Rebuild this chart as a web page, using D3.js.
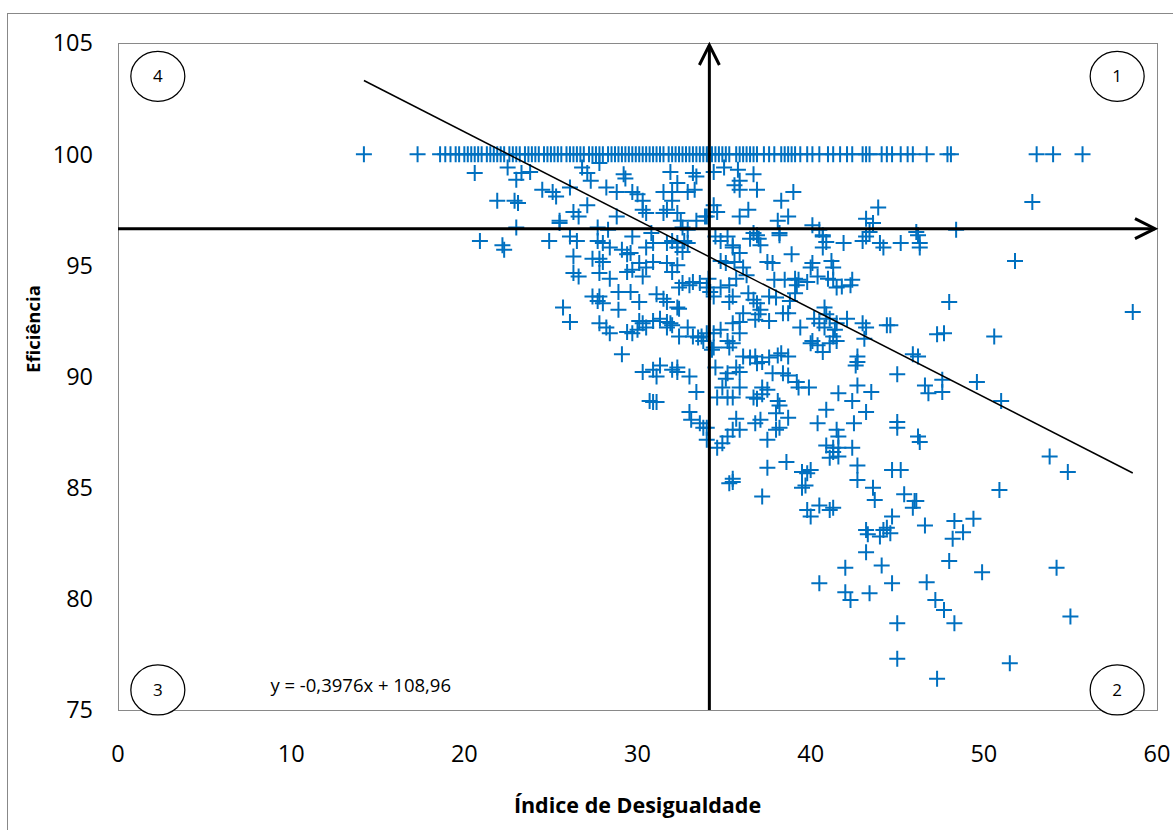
<!DOCTYPE html>
<html lang="pt">
<head>
<meta charset="UTF-8">
<title>Eficiência x Índice de Desigualdade</title>
<script src="https://d3js.org/d3.v7.min.js"></script>
<style>
    body { margin: 0; background: #fff; }
    text { font-family: "Open Sans", "Liberation Sans", sans-serif; fill: #000; }
</style>
</head>
<body>
<div id="chart"></div>
<script>
    // pontos com eficiência = 100 (só o índice)
    const topoX = [14.2, 17.3, 18.6, 18.9, 19.2, 19.5, 19.7, 20.0, 20.2, 20.4, 20.6, 20.8, 21.0, 21.3, 21.5,
        21.7, 21.9, 22.1, 22.3, 22.6, 22.8, 23.0, 23.2, 23.5, 23.7, 23.9, 24.1, 24.3, 24.6, 24.8,
        25.0, 25.2, 25.4, 25.6, 25.9, 26.1, 26.3, 26.5, 26.7, 26.9, 27.2, 27.4, 27.6, 27.8, 28.0,
        28.3, 28.5, 28.7, 28.9, 29.1, 29.3, 29.5, 29.7, 29.9, 30.1, 30.3, 30.5, 30.7, 30.9, 31.1,
        31.3, 31.5, 31.8, 32.0, 32.2, 32.4, 32.6, 32.8, 33.0, 33.2, 33.4, 33.6, 33.8, 34.0, 34.1,
        34.3, 34.5, 34.7, 34.9, 35.1, 35.3, 35.7, 35.9, 36.1, 36.3, 36.5, 36.7, 36.9, 37.3, 37.6,
        37.9, 38.3, 38.5, 38.7, 38.9, 39.1, 39.4, 39.8, 40.1, 40.5, 41.0, 41.3, 41.7, 42.1, 42.4,
        43.0, 43.2, 43.4, 44.1, 44.4, 44.7, 45.2, 45.6, 45.9, 46.7, 47.9, 48.1, 53.05, 54.0, 55.7];

    // demais pontos [índice, eficiência]
    const quadSuperiorEsq = [[20.6, 99.15], [22.5, 99.4], [23.3, 99.15], [23.0, 98.85], [23.8, 99.2],
        [24.5, 98.4], [25.1, 98.3], [25.3, 98.1], [26.1, 98.5], [21.9, 97.9], [22.9, 97.9], [23.1, 97.8],
        [25.5, 97.0], [26.3, 97.4], [26.6, 97.2], [27.1, 97.7], [27.1, 99.15], [27.3, 98.8], [26.8, 99.4],
        [27.8, 99.6], [28.2, 98.5], [28.8, 98.3], [29.2, 99.1], [29.3, 98.9], [29.7, 98.3], [30.0, 98.2],
        [30.3, 97.9], [28.8, 97.2], [30.3, 97.5], [30.5, 97.35], [31.9, 99.2], [31.5, 98.3], [32.0, 98.3],
        [32.9, 98.3], [33.3, 98.4], [32.3, 98.7], [33.2, 99.15], [33.4, 99.0], [32.0, 97.9], [31.7, 97.5],
        [32.3, 97.35], [32.5, 97.0], [32.6, 96.7], [32.9, 96.6], [31.5, 97.35], [33.9, 97.2], [33.4, 97.0],
        [32.7, 96.1], [20.9, 96.1], [22.2, 95.9], [23.0, 96.7], [24.9, 96.1], [26.1, 96.3], [26.5, 96.1],
        [27.7, 96.1], [28.0, 96.0], [25.5, 96.9], [27.7, 96.7], [28.3, 96.6], [29.7, 96.3], [30.8, 96.45],
        [32.3, 96.0]];

    const quadSuperiorDir = [[34.4, 99.2], [35.0, 99.4], [35.8, 99.3], [36.7, 99.1], [35.9, 98.8],
        [35.6, 98.6], [35.9, 98.4], [36.9, 98.4], [38.3, 97.9], [39.0, 98.3], [34.4, 97.7], [34.6, 97.4],
        [34.0, 97.2], [35.9, 97.2], [36.4, 97.5], [38.1, 97.0], [38.7, 97.2], [40.1, 96.8], [40.5, 96.6],
        [40.7, 96.3], [43.2, 97.1], [43.6, 96.9], [43.4, 96.5], [43.2, 96.3], [43.9, 97.6], [46.1, 96.5],
        [48.4, 96.6], [52.8, 97.85], [36.7, 96.45], [37.0, 96.2], [38.2, 96.45], [41.9, 96.0], [43.0, 96.1],
        [44.0, 96.0], [45.2, 96.0], [46.3, 96.0], [34.8, 96.1], [35.5, 95.9]];

    const quadInferiorEsq = [[22.3, 95.7], [26.3, 95.4], [27.4, 95.3], [27.8, 95.3], [28.0, 95.15],
        [26.3, 94.65], [26.6, 94.5], [28.4, 95.8], [27.8, 94.65], [28.4, 94.4], [29.1, 95.7], [29.4, 95.5],
        [29.6, 95.55], [30.1, 95.1], [30.5, 94.9], [30.9, 95.15], [29.4, 94.7], [29.7, 94.8], [30.5, 95.8],
        [30.9, 96.0], [31.7, 96.0], [32.3, 95.8], [32.6, 95.6], [32.9, 96.0], [32.0, 96.1], [31.7, 95.1],
        [32.3, 95.0], [32.0, 94.7], [30.3, 94.5], [32.6, 94.2], [33.0, 94.1], [32.4, 94.0], [33.2, 94.25],
        [33.6, 94.2], [34.1, 94.4], [34.0, 94.0], [34.2, 93.8], [34.4, 93.6], [27.4, 93.6], [27.7, 93.4],
        [27.8, 93.6], [28.0, 93.3], [25.7, 93.1], [26.1, 92.45], [28.9, 93.8], [29.6, 93.8], [28.9, 93.0],
        [30.1, 93.35], [31.1, 93.7], [31.5, 93.5], [31.7, 93.35], [32.3, 93.1], [32.4, 93.05], [30.1, 92.5],
        [30.3, 92.4], [30.0, 92.1], [30.5, 92.2], [30.9, 92.5], [31.3, 92.6], [31.7, 92.45], [31.9, 92.4],
        [32.0, 92.3], [31.7, 92.2], [27.8, 92.4], [28.2, 92.2], [28.4, 91.95], [29.4, 92.0], [29.7, 91.95],
        [32.4, 91.8], [32.9, 92.2], [33.2, 91.8], [33.5, 91.75], [33.7, 91.8], [33.8, 91.6], [34.4, 91.95],
        [34.3, 91.2], [29.1, 91.0], [30.3, 90.2], [30.9, 90.3], [31.3, 90.5], [31.1, 90.0], [32.0, 90.3],
        [32.3, 90.4], [32.3, 90.2], [33.0, 90.0], [33.4, 89.3], [30.7, 88.9], [30.9, 88.85], [31.1, 88.85],
        [33.0, 88.4], [33.1, 88.05], [33.6, 87.9], [33.8, 87.7], [34.0, 87.7]];

    const quadInferiorDir = [[34.5, 96.3], [35.2, 96.3], [35.5, 95.8], [35.9, 95.55], [36.5, 96.2],
        [36.9, 96.35], [37.1, 95.9], [38.2, 96.35], [40.7, 96.35], [40.9, 96.05], [40.7, 95.8], [44.2, 95.8],
        [46.3, 95.8], [46.2, 96.35], [51.8, 95.2], [58.6, 92.9], [48.0, 93.35], [47.3, 91.9], [47.7, 91.95],
        [50.6, 91.8], [45.9, 91.0], [46.2, 90.9], [45.0, 90.1], [46.6, 89.6], [46.8, 89.25], [47.6, 89.85],
        [47.6, 89.3], [49.6, 89.75], [51.0, 88.9], [42.7, 90.9], [42.7, 90.65], [42.6, 90.5], [40.9, 88.5],
        [43.2, 88.4], [40.4, 87.9], [41.5, 87.6], [41.6, 87.3], [42.5, 87.9], [45.0, 87.95], [45.0, 87.7],
        [46.2, 87.3], [46.3, 87.05], [34.8, 95.2], [35.1, 95.1], [35.6, 95.15], [36.1, 94.9], [36.3, 94.55],
        [37.5, 95.15], [37.8, 95.1], [38.9, 95.5], [40.1, 95.1], [40.0, 94.9], [41.2, 95.2], [41.3, 94.9],
        [37.9, 94.35], [38.5, 94.35], [39.1, 94.4], [39.3, 94.35], [39.8, 94.25], [40.4, 94.5], [41.0, 94.4],
        [41.3, 94.35], [41.5, 94.0], [41.8, 94.05], [42.4, 94.35], [42.3, 94.1], [39.2, 94.1], [39.1, 93.75],
        [38.8, 93.4], [35.7, 94.4], [35.3, 94.1], [34.8, 94.0], [35.5, 93.6], [35.3, 93.35], [36.4, 93.75],
        [36.7, 93.45], [36.9, 93.3], [37.1, 93.0], [37.0, 92.8], [36.8, 92.55], [37.6, 93.6], [38.0, 93.55],
        [38.4, 92.85], [38.7, 92.85], [39.4, 92.2], [37.6, 92.5], [36.1, 92.85], [35.9, 92.45], [35.5, 92.4],
        [40.8, 93.1], [40.9, 92.8], [41.1, 92.6], [40.2, 92.6], [40.5, 92.4], [40.8, 92.2], [41.5, 92.4],
        [41.4, 92.1], [41.3, 91.8], [41.5, 91.6], [41.1, 91.5], [42.1, 92.6], [43.0, 92.4], [43.2, 92.2],
        [43.1, 91.7], [44.4, 92.3], [44.6, 92.3], [40.1, 91.6], [40.0, 91.5], [40.4, 91.4], [40.7, 91.1],
        [34.0, 91.95], [34.8, 92.1], [35.2, 91.6], [35.3, 91.3], [35.5, 91.5], [35.9, 91.95], [34.4, 91.3],
        [36.1, 90.9], [36.5, 90.85], [36.9, 90.6], [36.8, 90.9], [37.2, 90.65], [37.6, 90.85], [38.1, 90.95],
        [38.3, 91.05], [38.7, 90.9], [34.5, 90.4], [35.2, 90.15], [35.1, 89.9], [35.7, 90.4], [35.9, 90.2],
        [37.8, 90.15], [38.4, 90.15], [38.7, 90.05], [39.2, 89.75], [39.3, 89.5], [39.9, 89.5], [37.2, 89.5],
        [37.5, 89.4], [37.2, 89.2], [34.9, 89.5], [34.6, 89.05], [35.2, 89.05], [35.5, 89.05], [35.9, 89.5],
        [36.7, 89.05], [36.9, 89.0], [38.1, 88.9], [38.2, 88.7], [41.6, 89.25], [42.4, 88.9], [42.7, 89.6],
        [43.5, 89.3], [35.7, 88.1], [35.5, 87.6], [35.9, 87.6], [36.8, 87.9], [37.1, 88.05], [38.0, 88.35],
        [38.2, 87.7], [38.7, 88.15], [34.0, 87.15], [35.2, 87.3], [34.9, 87.0], [37.5, 87.15], [38.0, 87.6]];

    const parteBaixa = [[34.6, 86.8], [35.5, 85.4], [35.5, 85.25], [35.3, 85.2], [37.5, 85.9], [38.6, 86.15],
        [37.2, 84.6], [39.5, 85.7], [39.8, 85.65], [40.0, 85.8], [39.7, 85.1], [39.5, 85.0], [40.9, 86.9],
        [41.3, 86.8], [41.6, 86.8], [41.3, 86.6], [41.6, 86.4], [41.1, 86.35], [42.4, 86.8], [42.7, 86.0],
        [42.7, 85.35], [43.6, 85.0], [43.7, 84.45], [44.7, 85.8], [45.2, 85.8], [39.8, 84.0], [40.5, 84.2],
        [41.1, 84.0], [41.3, 84.1], [40.0, 83.7], [43.2, 83.1], [43.3, 82.9], [44.2, 83.1], [44.4, 83.2],
        [44.6, 82.95], [44.7, 83.7], [44.0, 82.8], [43.2, 82.1], [42.0, 81.4], [44.1, 81.5], [45.4, 84.7],
        [46.0, 84.4], [45.9, 84.1], [46.1, 84.4], [46.6, 83.3], [48.3, 83.5], [48.2, 82.7], [48.8, 83.0],
        [49.4, 83.6], [48.0, 81.7], [49.9, 81.2], [50.9, 84.9], [53.8, 86.4], [54.85, 85.7], [54.2, 81.4],
        [55.0, 79.2], [51.5, 77.1], [40.5, 80.7], [42.0, 80.3], [42.3, 79.95], [43.4, 80.25], [44.7, 80.7],
        [46.7, 80.75], [47.2, 79.95], [47.7, 79.5], [48.3, 78.9], [45.0, 78.9], [45.0, 77.3], [47.3, 76.4]];

    const xTicks = [0, 10, 20, 30, 40, 50, 60];
    const yTicks = [75, 80, 85, 90, 95, 100, 105];
    const tendencia = { a: -0.3976, b: 108.96 };
    const mediaIndice = 34.15;
    const mediaEficiencia = 96.65;
    const quadrantes = ["1", "2", "3", "4"];

    const width = 1173, height = 830;
    const margin = { left: 118, top: 43, right: 16, bottom: 120 };
    const azul = "#0070C0";

    const pontos = topoX.map(x => [x, 100])
        .concat(quadSuperiorEsq, quadSuperiorDir, quadInferiorEsq, quadInferiorDir, parteBaixa);

    const svg = d3.select("#chart").append("svg")
        .attr("width", width)
        .attr("height", height);

    // moldura externa
    svg.append("rect")
        .attr("x", 7.5).attr("y", 13.5)
        .attr("width", 1200).attr("height", 900)
        .attr("fill", "none")
        .attr("stroke", "#888")
        .attr("stroke-width", 1);

    var x = d3.scaleLinear().domain([0, 60]).range([margin.left, width - margin.right]);
    var y = d3.scaleLinear().domain([75, 105]).range([height - margin.bottom, margin.top]);

    // area do grafico
    svg.append("rect")
        .attr("x", x(0) + 0.5).attr("y", y(105) + 0.5)
        .attr("width", x(60) - x(0)).attr("height", y(75) - y(105))
        .attr("fill", "none")
        .attr("stroke", "#898989")
        .attr("stroke-width", 1);

    svg.append("g").selectAll("text")
        .data(yTicks).enter()
        .append("text")
        .attr("x", 93)
        .attr("y", d => y(d))
        .attr("dy", "0.36em")
        .attr("text-anchor", "end")
        .style("font-size", "23.5px")
        .text(d => d);

    svg.append("g").selectAll("text")
        .data(xTicks).enter()
        .append("text")
        .attr("x", d => x(d))
        .attr("y", 762)
        .attr("text-anchor", "middle")
        .style("font-size", "23.5px")
        .text(d => d);

    svg.append("text")
        .attr("x", (x(0) + x(60)) / 2)
        .attr("y", 813)
        .attr("text-anchor", "middle")
        .style("font-size", "21.5px")
        .style("font-weight", "bold")
        .text("Índice de Desigualdade");

    svg.append("text")
        .attr("transform", "translate(40,329) rotate(-90)")
        .attr("text-anchor", "middle")
        .style("font-size", "18.5px")
        .style("font-weight", "bold")
        .text("Eficiência");

    // marcadores "+"
    const s = 8;
    svg.append("g")
        .attr("stroke", azul)
        .attr("stroke-width", 2)
        .selectAll("path")
        .data(pontos).enter()
        .append("path")
        .attr("d", d => {
            const px = x(d[0]), py = y(d[1]);
            return `M${px - s},${py}H${px + s}M${px},${py - s}V${py + s}`;
        });

    // linha de tendencia
    const ext = d3.extent(pontos, d => d[0]);
    svg.append("line")
        .attr("x1", x(ext[0])).attr("y1", y(tendencia.a * ext[0] + tendencia.b))
        .attr("x2", x(ext[1])).attr("y2", y(tendencia.a * ext[1] + tendencia.b))
        .attr("stroke", "#000")
        .attr("stroke-width", 1.5);

    // eixos das medias com setas
    const ym = y(mediaEficiencia), xm = x(mediaIndice);
    const eixos = svg.append("g")
        .attr("stroke", "#000")
        .attr("stroke-width", 3)
        .attr("fill", "none");
    eixos.append("line")
        .attr("x1", x(0)).attr("x2", x(60) - 2)
        .attr("y1", ym).attr("y2", ym);
    eixos.append("path")
        .attr("d", `M${x(60) - 22},${ym - 10}L${x(60) - 2},${ym}L${x(60) - 22},${ym + 10}`);
    eixos.append("line")
        .attr("x1", xm).attr("x2", xm)
        .attr("y1", y(75)).attr("y2", y(105) + 2);
    eixos.append("path")
        .attr("d", `M${xm - 10},${y(105) + 22}L${xm},${y(105) + 2}L${xm + 10},${y(105) + 22}`);

    // rotulos dos quadrantes
    const posQuad = [[57.7, 103.5], [57.7, 75.9], [2.3, 75.9], [2.3, 103.5]];
    const quad = svg.append("g").selectAll("g")
        .data(quadrantes).enter()
        .append("g")
        .attr("transform", (d, i) => `translate(${x(posQuad[i][0])},${y(posQuad[i][1])})`);
    quad.append("ellipse")
        .attr("rx", 27).attr("ry", 25)
        .attr("fill", "#fff")
        .attr("stroke", "#000")
        .attr("stroke-width", 1.25);
    quad.append("text")
        .attr("text-anchor", "middle")
        .attr("dy", "0.36em")
        .style("font-size", "17px")
        .text(d => d);

    svg.append("text")
        .attr("x", x(8.8))
        .attr("y", 692)
        .style("font-size", "18.5px")
        .text("y = -0,3976x + 108,96");
</script>
</body>
</html>
